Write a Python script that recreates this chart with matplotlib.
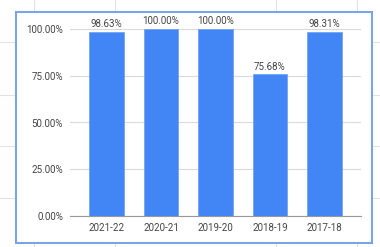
import matplotlib.pyplot as plt
from matplotlib.patches import Rectangle
from matplotlib.ticker import FuncFormatter

years = ['2021-22', '2020-21', '2019-20', '2018-19', '2017-18']
rates = [98.63, 100.00, 100.00, 75.68, 98.31]
yticks = [0, 25, 50, 75, 100]

W, H = 380, 247
fig = plt.figure(figsize=(W / 100, H / 100), dpi=100)
fig.patch.set_facecolor('white')
plt.rcParams['font.family'] = ['Roboto', 'DejaVu Sans']

# spreadsheet cell grid behind the chart
for x in [34, 115, 276, 357]:
    fig.add_artist(plt.Line2D([x / W, x / W], [0, 1], color='#e2e2e2', lw=0.8, zorder=0))
for y in [42, 95, 146, 198]:
    fig.add_artist(plt.Line2D([0, 1], [1 - y / H, 1 - y / H], color='#e2e2e2', lw=0.8, zorder=0))

# chart box with selection border
fig.add_artist(Rectangle((16 / W, 1 - 243 / H), (372 - 16) / W, (243 - 12) / H,
                         transform=fig.transFigure, facecolor='white',
                         edgecolor='#7ba3e6', lw=1.5, zorder=1))

ax = fig.add_axes([70 / W, 1 - 216 / H, (361 - 70) / W, (216 - 29) / H])
ax.set_zorder(2)
ax.patch.set_alpha(0)

x = range(len(years))
bars = ax.bar(x, rates, width=0.64, color='#4285f4', edgecolor='#6f9ef7', lw=0.5, zorder=3)
for b, v in zip(bars, rates):
    ax.text(b.get_x() + b.get_width() / 2, v + 1.5, f'{v:.2f}%', ha='center', va='bottom',
            fontsize=7, color='#444444', clip_on=False)

ax.set_xlim(-0.67, 4.67)
ax.set_ylim(0, 100)
ax.set_yticks(yticks)
ax.yaxis.set_major_formatter(FuncFormatter(lambda v, p: f'{v:.2f}%'))
ax.set_xticks(list(x))
ax.set_xticklabels(years)
ax.grid(axis='y', color='#dadada', lw=0.8, zorder=0)
ax.tick_params(length=0, labelsize=7, labelcolor='#444444', pad=5)
for s in ['top', 'right', 'left']:
    ax.spines[s].set_visible(False)
ax.spines['bottom'].set_color('#999999')
ax.spines['bottom'].set_zorder(4)

fig.savefig('out.png', dpi=100, facecolor='white')
